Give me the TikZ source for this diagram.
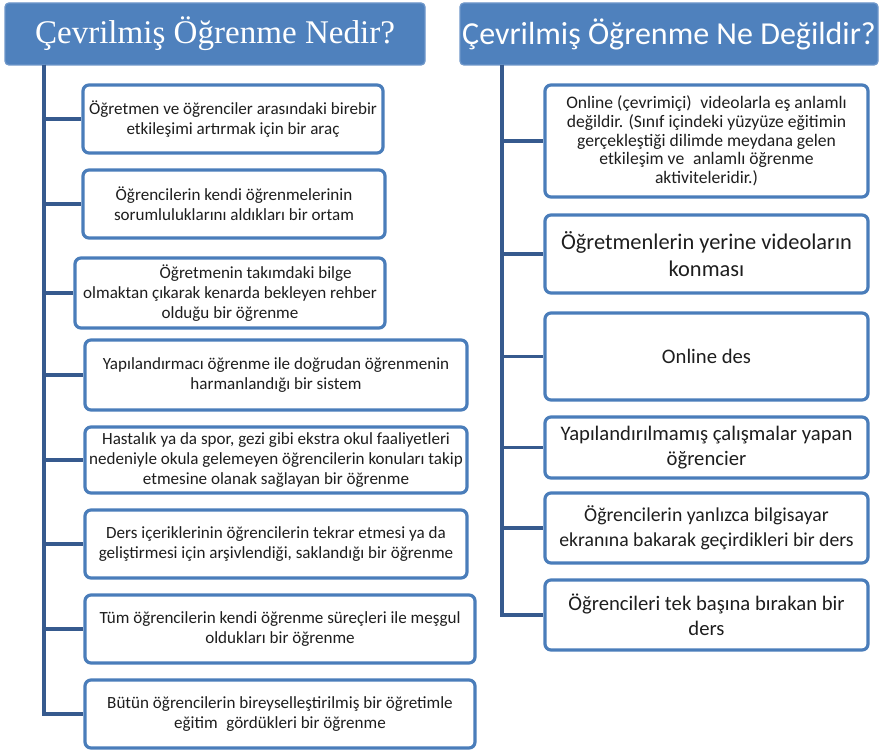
\documentclass[tikz,border=0pt]{standalone}
\usepackage{fontspec}
\setmainfont{Carlito}
\newfontfamily\headserif{Liberation Serif}
\usepackage{tikz}
\usetikzlibrary{positioning}
\usepackage{xcolor}

\definecolor{hdrblue}{HTML}{4F81BD}
\definecolor{hdredge}{HTML}{6E97CA}
\definecolor{boxedge}{HTML}{4A7DBA}
\definecolor{trunkblue}{HTML}{365A8E}
\definecolor{txtgray}{HTML}{1E1E1E}

\tikzset{
  header/.style={draw=hdredge, fill=hdrblue, line width=1pt, rounded corners=3pt,
    text=white, inner sep=0pt},
  itembox/.style={draw=boxedge, line width=2.4pt, rounded corners=4.5pt, fill=white,
    align=center, text=txtgray, inner sep=1pt},
  lbox/.style={itembox, font=\fontsize{12.8}{15.2}\selectfont},
  rbox/.style={itembox, font=\fontsize{15.5}{19}\selectfont},
  trunk/.style={draw=trunkblue, line width=2.4pt}
}

\begin{document}
\begin{tikzpicture}[x=0.75pt, y=-0.75pt]
\useasboundingbox (0,0) rectangle (881,755);

% headers
\node[header, minimum width=315pt, minimum height=46.5pt,
  font=\headserif\fontsize{24.8}{28}\selectfont] (hl) at (215,34) {Çevrilmiş Öğrenme Nedir?};
\node[header, minimum width=313.5pt, minimum height=46.5pt,
  font=\fontsize{24}{28}\selectfont] (hr) at (669,34) {Çevrilmiş Öğrenme Ne Değildir?};

% left column
\node[lbox, minimum width=225pt, minimum height=51pt] (l1) at (233,119)
  {Öğretmen ve öğrenciler arasındaki birebir\\etkileşimi artırmak için bir araç};
\node[lbox, minimum width=226.5pt, minimum height=51pt] (l2) at (234,204)
  {Öğrencilerin kendi öğrenmelerinin\\sorumluluklarını aldıkları bir ortam};
\node[lbox, minimum width=232.5pt, minimum height=52.5pt] (l3) at (230,293)
  {\hspace*{3em}Öğretmenin takımdaki bilge\\olmaktan çıkarak kenarda bekleyen rehber\\olduğu bir öğrenme};
\node[lbox, minimum width=286.5pt, minimum height=52.5pt] (l4) at (276,375)
  {Yapılandırmacı öğrenme ile doğrudan öğrenmenin\\harmanlandığı bir sistem};
\node[lbox, minimum width=286.5pt, minimum height=49.5pt] (l5) at (276,460)
  {Hastalık ya da spor, gezi gibi ekstra okul faaliyetleri\\nedeniyle okula gelemeyen öğrencilerin konuları takip\\etmesine olanak sağlayan bir öğrenme};
\node[lbox, minimum width=286.5pt, minimum height=51pt] (l6) at (276,544)
  {Ders içeriklerinin öğrencilerin tekrar etmesi ya da\\geliştirmesi için arşivlendiği, saklandığı bir öğrenme};
\node[lbox, minimum width=292.5pt, minimum height=51pt] (l7) at (280,629)
  {Tüm öğrencilerin kendi öğrenme süreçleri ile meşgul\\oldukları bir öğrenme};
\node[lbox, minimum width=292.5pt, minimum height=51pt] (l8) at (280,714)
  {Bütün öğrencilerin bireyselleştirilmiş bir öğretimle\\eğitim\enspace gördükleri bir öğrenme};

% right column
\node[rbox, minimum width=242.25pt, minimum height=84pt,
  font=\fontsize{13.2}{14}\selectfont] (r1) at (706.5,141)
  {Online (çevrimiçi)\enspace videolarla eş anlamlı\\değildir. (Sınıf içindeki yüzyüze eğitimin\\gerçekleştiği dilimde meydana gelen\\etkileşim ve\enspace anlamlı öğrenme\\aktiviteleridir.)};
\node[rbox, minimum width=242.25pt, minimum height=58.5pt,
  font=\fontsize{16.8}{20}\selectfont] (r2) at (706.5,254)
  {Öğretmenlerin yerine videoların\\konması};
\node[rbox, minimum width=242.25pt, minimum height=65.25pt] (r3) at (706.5,356.5)
  {Online des};
\node[rbox, minimum width=242.25pt, minimum height=45.75pt] (r4) at (706.5,447.5)
  {Yapılandırılmamış çalışmalar yapan\\öğrencier};
\node[rbox, minimum width=242.25pt, minimum height=52.5pt,
  font=\fontsize{14.8}{19}\selectfont] (r5) at (706.5,528)
  {Öğrencilerin yanlızca bilgisayar\\ekranına bakarak geçirdikleri bir ders};
\node[rbox, minimum width=242.25pt, minimum height=52.5pt] (r6) at (706.5,615)
  {Öğrencileri tek başına bırakan bir\\ders};

% connectors
\coordinate (ltop) at (44,65);
\coordinate (rtop) at (502,65);
\draw[trunk] (ltop) |- (l1.west);
\draw[trunk] (ltop) |- (l2.west);
\draw[trunk] (ltop) |- (l3.west);
\draw[trunk] (ltop) |- (l4.west);
\draw[trunk] (ltop) |- (l5.west);
\draw[trunk] (ltop) |- (l6.west);
\draw[trunk] (ltop) |- (l7.west);
\draw[trunk] (ltop) |- (l8.west);
\draw[trunk] (rtop) |- (r1.west);
\draw[trunk] (rtop) |- (r2.west);
\draw[trunk] (rtop) |- (r3.west);
\draw[trunk] (rtop) |- (r4.west);
\draw[trunk] (rtop) |- (r5.west);
\draw[trunk] (rtop) |- (r6.west);
\end{tikzpicture}
\end{document}
